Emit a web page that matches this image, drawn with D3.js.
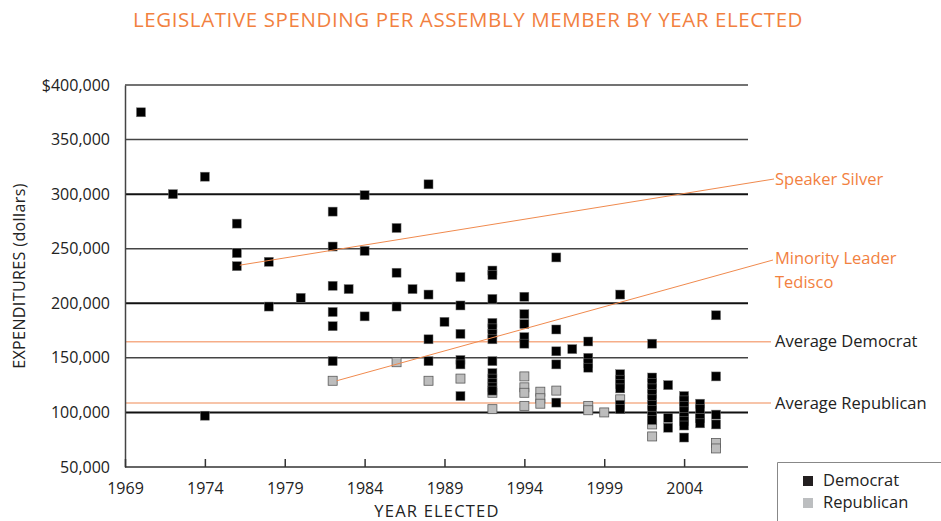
<!DOCTYPE html>
<html><head><meta charset="utf-8">
<script src="https://cdn.jsdelivr.net/npm/d3@7"></script>
<style>body{margin:0;background:#fff}svg{display:block}text{font-family:"Open Sans",sans-serif}</style>
</head><body><svg id="c" width="941" height="521"></svg>
<script>
const democratYears = [1970,1972,1974,1974,1976,1976,1976,1978,1978,1980,
 1982,1982,1982,1982,1982,1982,1983,1984,1984,1984,1986,1986,1986,1987,
 1988,1988,1988,1988,1989,1990,1990,1990,1990,1990,1990,
 1992,1992,1992,1992,1992,1992,1992,1992,1992,1992,1992,1992,1992,
 1994,1994,1994,1994,1994,1996,1996,1996,1996,1996,1997,1998,1998,1998,1998,
 2000,2000,2000,2000,2000,2000,2000,
 2002,2002,2002,2002,2002,2002,2002,2002,2002,2002,
 2003,2003,2003,2004,2004,2004,2004,2004,2004,2004,2004,
 2005,2005,2005,2005,2006,2006,2006,2006];
const democratValues = [375000,300000,316000,97000,273000,246000,234000,238000,197000,205000,
 284000,252000,216000,192000,179000,147000,213000,299000,248000,188000,269000,228000,197000,213000,
 309000,208000,167000,147000,183000,224000,198000,172000,148000,144000,115000,
 230000,226000,204000,182000,177000,172000,167000,147000,136000,131000,127000,123000,120000,
 206000,190000,181000,169000,163000,242000,176000,156000,144000,109000,158000,165000,150000,145000,141000,
 208000,135000,130000,126000,122000,107000,103000,
 163000,132000,127000,122000,117000,112000,107000,102000,97000,93000,
 125000,95000,86000,115000,111000,106000,101000,96000,92000,88000,77000,
 108000,103000,95000,90000,189000,133000,98000,89000];
const republicanYears = [1982,1986,1988,1990,1992,1992,1994,1994,1994,1994,1995,1995,1995,1996,1998,1998,1999,2000,2002,2002,2004,2005,2006,2006];
const republicanValues = [129000,146000,129000,131000,118000,103000,133000,123000,118000,106000,119000,113000,108000,120000,106000,102000,100000,112000,89000,78000,110000,95000,72000,67000];
const xTicks = [1969,1974,1979,1984,1989,1994,1999,2004];
const yTicks = [50000,100000,150000,200000,250000,300000,350000,400000];
const averageDemocrat = 164700;
const averageRepublican = 108600;
const silverPoint = [1976, 234000];
const tediscoPoint = [1982, 129000];

const svg = d3.select("#c");
const x = d3.scaleLinear().domain([1969, 2008]).range([125, 748]);
const y = d3.scaleLinear().domain([50000, 400000]).range([467, 85]);
const fmt = v => (v === 400000 ? "$" : "") + d3.format(",")(v);

svg.append("text").attr("x", 468).attr("y", 27).attr("text-anchor", "middle")
  .attr("fill", "#f2813f").attr("font-size", 20.5).attr("letter-spacing", 0.6)
  .text("LEGISLATIVE SPENDING PER ASSEMBLY MEMBER BY YEAR ELECTED");

// grid
svg.append("g").selectAll("line").data(yTicks.filter(v => v > 50000)).join("line")
  .attr("x1", 125).attr("x2", 748).attr("y1", d => y(d)).attr("y2", d => y(d))
  .attr("stroke", d => (d % 100000 === 0 && d < 400000) ? "#111" : "#444")
  .attr("stroke-width", d => (d % 100000 === 0 && d < 400000) ? 2 : 1.5);

// average lines
svg.append("line").attr("x1", 125).attr("x2", 771).attr("y1", y(averageDemocrat)).attr("y2", y(averageDemocrat))
  .attr("stroke", "#f6ad88").attr("stroke-width", 1.6);
svg.append("line").attr("x1", 125).attr("x2", 771).attr("y1", y(averageRepublican)).attr("y2", y(averageRepublican))
  .attr("stroke", "#ef8a55").attr("stroke-width", 1.1);

// y axis
const yAxis = d3.axisLeft(y).tickValues(yTicks).tickSize(0).tickPadding(15).tickFormat(fmt);
const gy = svg.append("g").attr("transform", "translate(125,0)").call(yAxis);
gy.select(".domain").attr("stroke", "#444").attr("stroke-width", 1.5);
gy.selectAll("text").attr("font-size", 16).attr("fill", "#222").attr("font-family", "Open Sans");

// x axis
const xAxis = d3.axisBottom(x).tickValues(xTicks).tickSize(-8).tickPadding(16).tickFormat(d3.format("d"));
const gx = svg.append("g").attr("transform", "translate(0,467)").call(xAxis);
gx.select(".domain").attr("stroke", "#333").attr("stroke-width", 1.5).attr("d", "M125,0H748");
gx.selectAll(".tick line").attr("stroke", "#333").attr("stroke-width", 1.5);
gx.selectAll("text").attr("font-size", 16).attr("fill", "#222").attr("font-family", "Open Sans");

svg.append("text").attr("x", 437).attr("y", 517).attr("text-anchor", "middle")
  .attr("font-size", 16.5).attr("fill", "#222").attr("letter-spacing", 1.2).text("YEAR ELECTED");
svg.append("text").attr("transform", "translate(25,276) rotate(-90)").attr("text-anchor", "middle")
  .attr("font-size", 16).attr("fill", "#222").attr("letter-spacing", 0.4).text("EXPENDITURES (dollars)");

// points
const s = 9;
const rep = republicanYears.map((yr, i) => [yr, republicanValues[i]]);
const dem = democratYears.map((yr, i) => [yr, democratValues[i]]);
svg.append("g").selectAll("rect").data(rep).join("rect")
  .attr("x", d => x(d[0]) - s / 2).attr("y", d => y(d[1]) - s / 2).attr("width", s).attr("height", s)
  .attr("fill", "#bdbdbd").attr("stroke", "#5a5a5a").attr("stroke-width", 0.8);
svg.append("g").selectAll("rect").data(dem).join("rect")
  .attr("x", d => x(d[0]) - s / 2).attr("y", d => y(d[1]) - s / 2).attr("width", s).attr("height", s)
  .attr("fill", "#000").attr("stroke", "#777").attr("stroke-width", 0.5);

// annotation lines
svg.append("line").attr("x1", x(silverPoint[0]) + 3).attr("y1", y(silverPoint[1]) - 1).attr("x2", 774).attr("y2", 179)
  .attr("stroke", "#f08a4e").attr("stroke-width", 1);
svg.append("line").attr("x1", x(tediscoPoint[0]) + 4).attr("y1", y(tediscoPoint[1])).attr("x2", 773).attr("y2", 260)
  .attr("stroke", "#f08a4e").attr("stroke-width", 1);

const lab = (t, xx, yy, c) => svg.append("text").attr("x", xx).attr("y", yy).attr("font-size", 16.5).attr("fill", c).text(t);
lab("Speaker Silver", 775, 185, "#f2813f");
lab("Minority Leader", 775, 264, "#f2813f");
lab("Tedisco", 775, 288, "#f2813f");
lab("Average Democrat", 775, 347, "#222");
lab("Average Republican", 775, 409, "#222");

// legend
svg.append("path").attr("d", "M777.5,521V462.5H941").attr("fill", "none").attr("stroke", "#888").attr("stroke-width", 1);
svg.append("rect").attr("x", 803).attr("y", 476).attr("width", 10).attr("height", 10).attr("fill", "#231f20");
svg.append("rect").attr("x", 803).attr("y", 498).attr("width", 10).attr("height", 10).attr("fill", "#bcbec0");
lab("Democrat", 823, 486, "#222");
lab("Republican", 823, 508, "#222");
</script></body></html>
